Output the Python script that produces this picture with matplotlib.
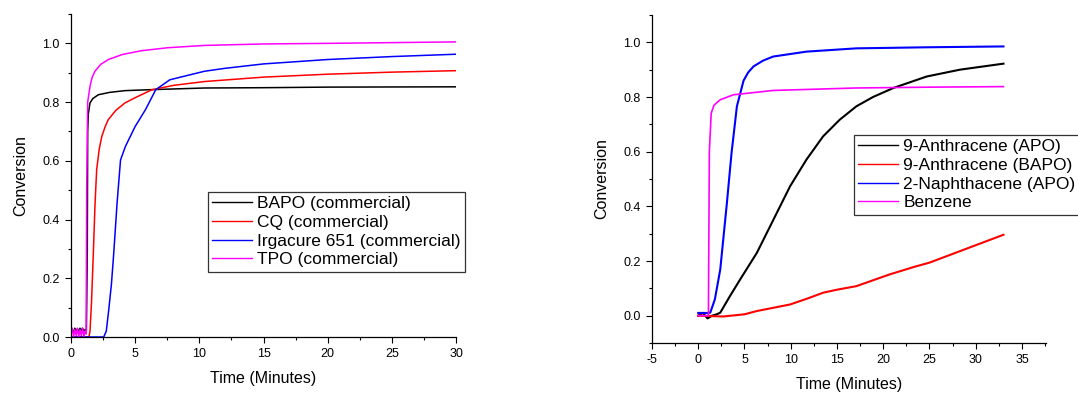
import matplotlib.pyplot as plt
from matplotlib.ticker import MultipleLocator

plt.rcParams['font.family'] = ['Liberation Sans', 'DejaVu Sans']
plt.rcParams['axes.unicode_minus'] = False

# ---- left panel: commercial initiators ----
bapo_t = [0, 0.1, 0.2, 0.3, 0.4, 0.5, 0.6, 0.7, 0.8, 0.9, 1.0, 1.1, 1.2, 1.27, 1.3, 1.35, 1.48, 1.7, 2.13, 3, 4.2, 6, 10.4, 15, 20, 30]
bapo_c = [0.02, 0.025, 0.015, 0.03, 0.02, 0.028, 0.018, 0.03, 0.022, 0.03, 0.02, 0.025, 0.02, 0.3, 0.7, 0.76, 0.797, 0.812, 0.825, 0.833, 0.839, 0.842, 0.848, 0.849, 0.851, 0.852]

cq_t = [0, 1.0, 1.4, 1.48, 1.6, 1.74, 1.87, 2.0, 2.2, 2.4, 2.65, 2.9, 3.5, 4.2, 5, 6.3, 8, 10.4, 15, 20, 25, 30]
cq_c = [0, 0, 0, 0.02, 0.12, 0.285, 0.45, 0.57, 0.64, 0.683, 0.715, 0.74, 0.772, 0.797, 0.815, 0.842, 0.857, 0.87, 0.885, 0.895, 0.902, 0.907]

irg_t = [0, 2.0, 2.55, 2.75, 2.94, 3.15, 3.33, 3.59, 3.86, 4.24, 5.0, 5.8, 6.6, 7.7, 10.4, 12, 15, 20, 25, 30]
irg_c = [0, 0, 0, 0.02, 0.092, 0.18, 0.285, 0.456, 0.603, 0.649, 0.717, 0.774, 0.842, 0.876, 0.905, 0.915, 0.93, 0.945, 0.955, 0.963]

tpo_t = [0, 0.1, 0.2, 0.3, 0.4, 0.5, 0.6, 0.7, 0.8, 0.9, 1.0, 1.1, 1.18, 1.22, 1.3, 1.48, 1.65, 1.87, 2.3, 2.91, 4, 5.5, 7.5, 10.4, 15, 20, 30]
tpo_c = [0.01, 0.03, 0.0, 0.025, 0.005, 0.03, 0.0, 0.025, 0.005, 0.03, 0.0, 0.02, 0.01, 0.5, 0.8, 0.853, 0.885, 0.905, 0.928, 0.945, 0.962, 0.975, 0.985, 0.993, 0.998, 1.0, 1.005]

# ---- right panel: new initiators ----
ant_apo_t = [0, 0.5, 1.0, 1.5, 2.0, 2.38, 3.4, 4.54, 6.34, 8.14, 9.94, 11.7, 13.5, 15.3, 17.1, 18.9, 21.1, 24.7, 28.3, 33]
ant_apo_c = [0, 0.01, -0.01, 0.0, 0.005, 0.011, 0.07, 0.133, 0.23, 0.352, 0.474, 0.571, 0.656, 0.717, 0.766, 0.80, 0.833, 0.875, 0.90, 0.922]

ant_bapo_t = [0, 2.7, 5, 6.34, 8, 9.94, 12, 13.5, 15, 17.1, 20.7, 23.5, 25, 29, 33]
ant_bapo_c = [0, -0.003, 0.005, 0.017, 0.028, 0.041, 0.065, 0.084, 0.095, 0.108, 0.151, 0.18, 0.194, 0.245, 0.296]

nap_t = [0, 1.0, 1.3, 1.8, 2.38, 3.1, 3.6, 4.18, 4.9, 5.4, 5.98, 7, 8.1, 11.7, 17.1, 25, 33]
nap_c = [0.01, 0.01, 0.011, 0.06, 0.169, 0.413, 0.595, 0.766, 0.86, 0.89, 0.912, 0.933, 0.948, 0.966, 0.978, 0.982, 0.985]

benz_t = [0, 1.0, 1.1, 1.15, 1.2, 1.4, 1.7, 2.38, 3.8, 8.1, 17.1, 25, 33]
benz_c = [0, 0, 0.0, 0.3, 0.6, 0.74, 0.77, 0.79, 0.808, 0.824, 0.833, 0.836, 0.838]

fig = plt.figure(figsize=(10.78, 3.93), dpi=100)
W, H = 1078, 393
ax1 = fig.add_axes([71 / W, 1 - 337 / H, (456 - 71) / W, (337 - 14) / H])
ax2 = fig.add_axes([652 / W, 1 - 343 / H, (1046 - 652) / W, (343 - 15) / H])


def style(ax):
    for s in ['top', 'right']:
        ax.spines[s].set_visible(False)
    for s in ['left', 'bottom']:
        ax.spines[s].set_linewidth(0.9)
    ax.tick_params(which='major', direction='out', length=4, width=0.8, labelsize=9, pad=4)
    ax.tick_params(which='minor', direction='out', length=2.5, width=0.8)
    ax.set_xlabel('Time (Minutes)', fontsize=11.5, labelpad=8)
    ax.set_ylabel('Conversion', fontsize=11.5, labelpad=10)


lw = 1.1
ax1.plot(bapo_t, bapo_c, color='black', lw=lw, label='BAPO (commercial)')
ax1.plot(cq_t, cq_c, color='red', lw=lw, label='CQ (commercial)')
ax1.plot(irg_t, irg_c, color='blue', lw=lw, label='Irgacure 651 (commercial)')
ax1.plot(tpo_t, tpo_c, color='magenta', lw=lw, label='TPO (commercial)')
ax1.set_xlim(0, 30)
ax1.set_ylim(0, 1.1)
ax1.xaxis.set_major_locator(MultipleLocator(5))
ax1.xaxis.set_minor_locator(MultipleLocator(2.5))
ax1.yaxis.set_major_locator(MultipleLocator(0.2))
ax1.yaxis.set_minor_locator(MultipleLocator(0.1))
style(ax1)

ax2.plot(ant_apo_t, ant_apo_c, color='black', lw=1.5, label='9-Anthracene (APO)')
ax2.plot(ant_bapo_t, ant_bapo_c, color='red', lw=1.5, label='9-Anthracene (BAPO)')
ax2.plot(nap_t, nap_c, color='blue', lw=1.5, label='2-Naphthacene (APO)')
ax2.plot(benz_t, benz_c, color='magenta', lw=1.2, label='Benzene')
ax2.set_xlim(-5, 37.6)
ax2.set_ylim(-0.1, 1.1)
ax2.xaxis.set_major_locator(MultipleLocator(5))
ax2.xaxis.set_minor_locator(MultipleLocator(2.5))
ax2.yaxis.set_minor_locator(MultipleLocator(0.1))
ax2.set_yticks([0, 0.2, 0.4, 0.6, 0.8, 1.0])
style(ax2)

leg_kw = dict(loc='upper left', fontsize=12.5, frameon=True, fancybox=False,
              handlelength=2.3, handletextpad=0.3, labelspacing=0.2,
              borderpad=0.25, borderaxespad=0)
l1 = ax1.legend(bbox_to_anchor=(208 / W, 1 - 192 / H), bbox_transform=fig.transFigure, **leg_kw)
l2 = ax2.legend(bbox_to_anchor=(854 / W, 1 - 135 / H), bbox_transform=fig.transFigure, **leg_kw)
for lg in (l1, l2):
    lg.get_frame().set_edgecolor('black')
    lg.get_frame().set_linewidth(0.9)
    for ln in lg.get_lines():
        ln.set_linewidth(1.0)

fig.savefig('out.png', dpi=100)
